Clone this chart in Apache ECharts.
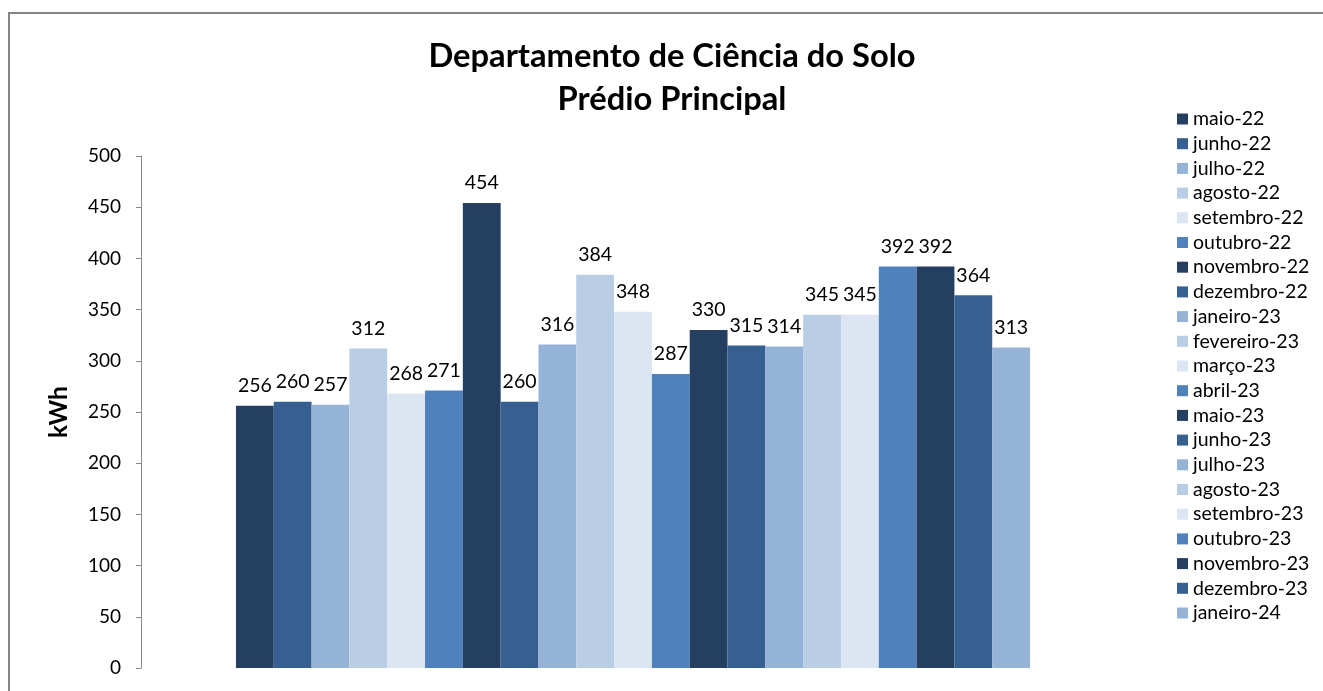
<!DOCTYPE html>
<html>
<head>
<meta charset="utf-8">
<script src="https://cdn.jsdelivr.net/npm/echarts@6/dist/echarts.min.js"></script>
<style>html,body{margin:0;padding:0;background:#fff;}#c{width:1323px;height:691px;}</style>
</head>
<body>
<div id="c"></div>
<script>
const months = ['maio-22','junho-22','julho-22','agosto-22','setembro-22','outubro-22','novembro-22','dezembro-22','janeiro-23','fevereiro-23','março-23','abril-23','maio-23','junho-23','julho-23','agosto-23','setembro-23','outubro-23','novembro-23','dezembro-23','janeiro-24'];
const values = [256,260,257,312,268,271,454,260,316,384,348,287,330,315,314,345,345,392,392,364,313];
const palette = ['#243F60','#366092','#95B3D7','#B9CDE5','#DCE6F2','#4F81BD'];
const yTicks = [0,50,100,150,200,250,300,350,400,450,500];
const titleLines = ['Departamento de Ciência do Solo','Prédio Principal'];
const FONT = 'Lato, "Open Sans", sans-serif';

const chart = echarts.init(document.getElementById('c'));
const series = months.map((m, i) => ({
  name: m,
  type: 'bar',
  data: [values[i]],
  barGap: '0%',
  barCategoryGap: '19.3%',
  itemStyle: { color: palette[i % palette.length] },
  label: { show: true, position: 'top', distance: 10, color: '#000', fontSize: 19.5, fontFamily: FONT },
  emphasis: { disabled: true }
}));
chart.setOption({
  animation: false,
  textStyle: { fontFamily: FONT },
  color: months.map((m, i) => palette[i % palette.length]),
  title: {
    text: titleLines.join('\n'),
    left: 667, top: 30, textAlign: 'center',
    textStyle: { fontSize: 32.7, fontWeight: 'bold', color: '#000', lineHeight: 43, fontFamily: FONT }
  },
  graphic: [{
    type: 'rect', shape: { x: 9, y: 13, width: 1340, height: 720 },
    style: { fill: 'none', stroke: '#868686', lineWidth: 2 }, silent: true
  }],
  legend: {
    orient: 'vertical', left: 1172, top: 104,
    icon: 'rect', itemWidth: 11, itemHeight: 11, itemGap: 4.7,
    textStyle: { fontSize: 19.5, color: '#000', lineHeight: 19, padding: [0,0,0,0], fontFamily: FONT },
    data: months
  },
  grid: { left: 141, right: 198, top: 156, bottom: 23, containLabel: false },
  xAxis: {
    type: 'category', data: [''],
    axisLine: { show: false }, axisTick: { show: false }, axisLabel: { show: false }
  },
  yAxis: {
    type: 'value', min: yTicks[0], max: yTicks[yTicks.length - 1], interval: 50,
    name: 'kWh', nameLocation: 'middle', nameGap: 69,
    nameTextStyle: { fontSize: 24.5, fontWeight: 'bold', color: '#000', fontFamily: FONT },
    axisLine: { show: true, lineStyle: { color: '#868686', width: 1 } },
    axisTick: { show: true, length: 5, lineStyle: { color: '#868686' } },
    axisLabel: { fontSize: 19, color: '#000', margin: 20, fontFamily: FONT },
    splitLine: { show: false }
  },
  series: series
});
</script>
</body>
</html>
